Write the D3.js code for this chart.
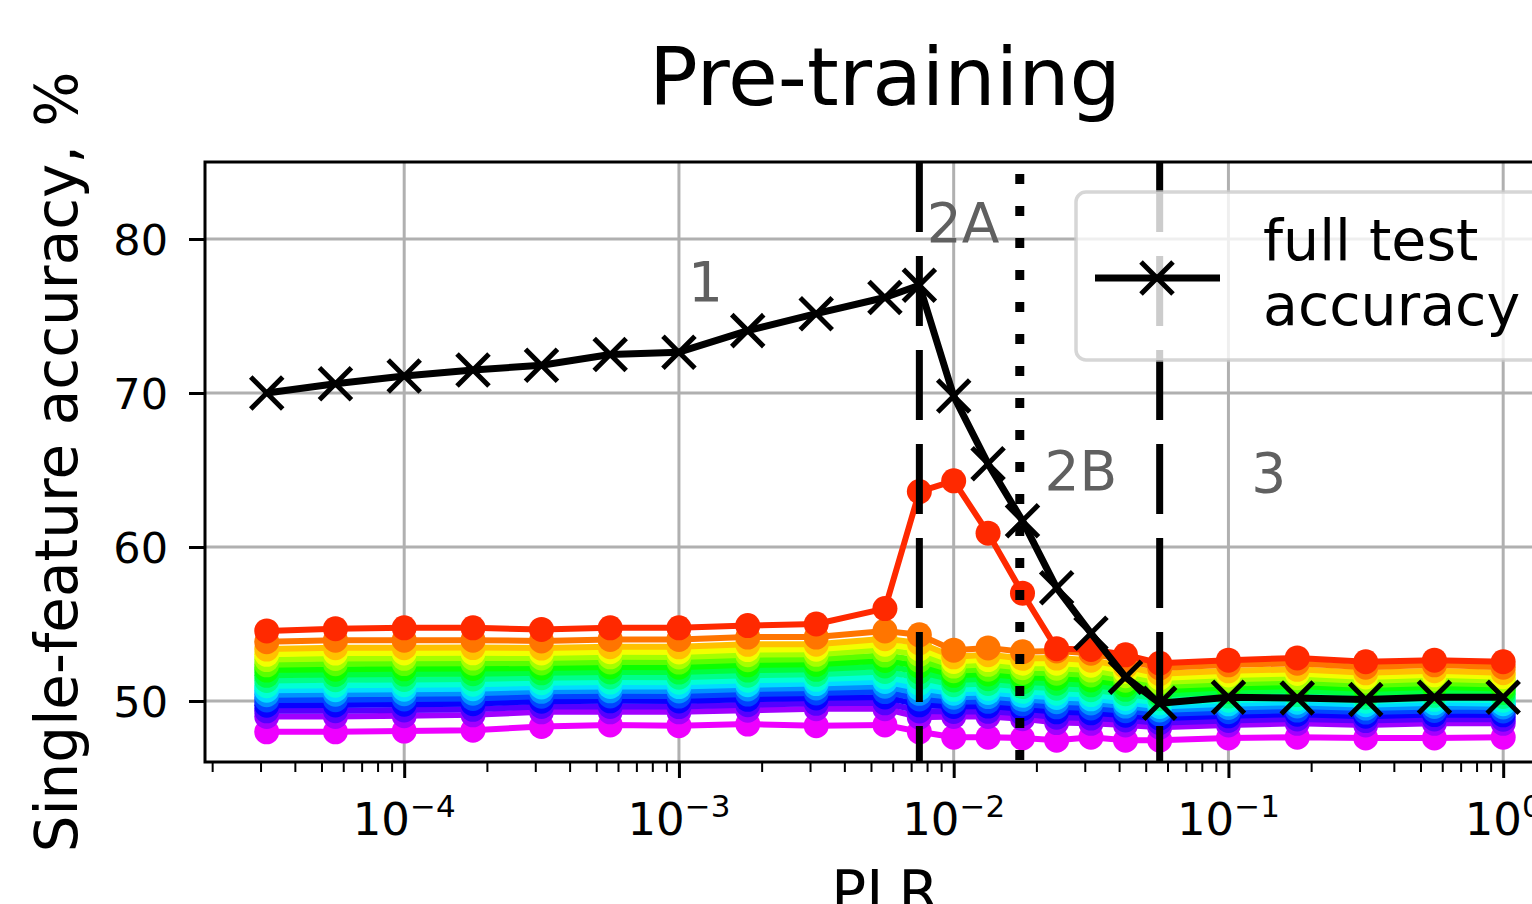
<!DOCTYPE html>
<html>
<head>
<meta charset="utf-8">
<script src="https://cdn.jsdelivr.net/npm/d3@7"></script>
<style>
  html, body { margin: 0; padding: 0; background: #fff; overflow: hidden; }
  svg { display: block; font-family: "DejaVu Sans", sans-serif; }
</style>
</head>
<body>
<div id="chart"></div>
<script>
// PLR values (log x axis)
var plr = [3.16e-5, 5.62e-5, 1e-4, 1.78e-4, 3.16e-4, 5.62e-4, 1e-3, 1.78e-3, 3.16e-3, 5.62e-3,
           7.5e-3, 1e-2, 1.334e-2, 1.78e-2, 2.37e-2, 3.16e-2, 4.22e-2, 5.62e-2,
           0.1, 0.178, 0.316, 0.562, 1.0];

// full test accuracy (black line)
var fullTestAcc = [70.0, 70.6, 71.1, 71.5, 71.8, 72.5, 72.65, 74.05, 75.15, 76.2,
                   77.0, 69.8, 65.4, 61.7, 57.35, 54.4, 51.55, 49.85,
                   50.25, 50.2, 50.1, 50.25, 50.25];

// single-feature accuracies, top (red) to bottom (magenta)
var feat00 = [54.55, 54.7, 54.75, 54.75, 54.65, 54.75, 54.75, 54.9, 55.0, 56.0, 63.6, 64.3, 60.9, 57.0, 53.4, 53.35, 53.0, 52.45, 52.65, 52.8, 52.55, 52.65, 52.55];
var feat01 = [53.85, 53.95, 53.95, 53.95, 53.9, 54.0, 54.0, 54.15, 54.15, 54.55, 54.3, 53.3, 53.45, 53.2, 53.25, 53.1, 52.65, 52.15, 52.35, 52.45, 52.2, 52.35, 52.2];
var feat02 = [53.37, 53.46, 53.46, 53.47, 53.44, 53.53, 53.52, 53.68, 53.69, 54.05, 53.77, 52.87, 53.01, 52.77, 52.79, 52.65, 52.23, 51.77, 51.96, 52.06, 51.83, 51.97, 51.84];
var feat03 = [53.03, 53.11, 53.12, 53.13, 53.12, 53.2, 53.19, 53.34, 53.36, 53.69, 53.39, 52.57, 52.69, 52.46, 52.46, 52.33, 51.94, 51.5, 51.69, 51.79, 51.56, 51.7, 51.58];
var feat04 = [52.69, 52.76, 52.77, 52.79, 52.8, 52.87, 52.86, 53.01, 53.03, 53.34, 53.02, 52.27, 52.38, 52.16, 52.13, 52.01, 51.64, 51.23, 51.41, 51.51, 51.3, 51.44, 51.32];
var feat05 = [52.35, 52.42, 52.43, 52.45, 52.47, 52.54, 52.53, 52.68, 52.71, 52.98, 52.64, 51.97, 52.07, 51.85, 51.81, 51.69, 51.35, 50.96, 51.14, 51.24, 51.04, 51.17, 51.07];
var feat06 = [52.01, 52.07, 52.09, 52.11, 52.15, 52.21, 52.2, 52.35, 52.38, 52.63, 52.27, 51.67, 51.76, 51.55, 51.48, 51.37, 51.05, 50.69, 50.87, 50.97, 50.78, 50.91, 50.81];
var feat07 = [51.67, 51.72, 51.75, 51.77, 51.83, 51.89, 51.88, 52.01, 52.06, 52.28, 51.89, 51.37, 51.45, 51.24, 51.16, 51.05, 50.76, 50.42, 50.6, 50.7, 50.51, 50.64, 50.56];
var feat08 = [51.33, 51.38, 51.4, 51.43, 51.51, 51.56, 51.55, 51.68, 51.73, 51.92, 51.52, 51.06, 51.14, 50.94, 50.83, 50.73, 50.47, 50.15, 50.32, 50.42, 50.25, 50.37, 50.3];
var feat09 = [50.99, 51.03, 51.06, 51.09, 51.19, 51.23, 51.22, 51.35, 51.41, 51.57, 51.14, 50.76, 50.82, 50.63, 50.51, 50.42, 50.17, 49.88, 50.05, 50.15, 49.99, 50.11, 50.05];
var feat10 = [50.7, 50.73, 50.77, 50.8, 50.91, 50.95, 50.94, 51.06, 51.13, 51.27, 50.82, 50.51, 50.56, 50.37, 50.23, 50.14, 49.92, 49.65, 49.82, 49.92, 49.76, 49.88, 49.83];
var feat11 = [50.41, 50.44, 50.47, 50.51, 50.63, 50.66, 50.65, 50.78, 50.85, 50.96, 50.5, 50.25, 50.29, 50.11, 49.95, 49.87, 49.67, 49.42, 49.58, 49.68, 49.54, 49.65, 49.61];
var feat12 = [50.07, 50.09, 50.13, 50.17, 50.31, 50.33, 50.32, 50.45, 50.52, 50.61, 50.13, 49.95, 49.98, 49.81, 49.62, 49.55, 49.37, 49.15, 49.31, 49.41, 49.28, 49.39, 49.35];
var feat13 = [49.73, 49.74, 49.79, 49.83, 49.99, 50.01, 50.0, 50.11, 50.2, 50.26, 49.75, 49.65, 49.67, 49.5, 49.3, 49.23, 49.08, 48.88, 49.04, 49.14, 49.01, 49.12, 49.1];
var feat14 = [49.36, 49.37, 49.42, 49.46, 49.65, 49.65, 49.64, 49.76, 49.85, 49.88, 49.35, 49.32, 49.33, 49.18, 48.95, 48.89, 48.77, 48.59, 48.74, 48.84, 48.73, 48.84, 48.82];
var feat15 = [49.0, 49.0, 49.05, 49.1, 49.3, 49.3, 49.3, 49.4, 49.5, 49.5, 48.95, 49.0, 49.0, 48.85, 48.6, 48.55, 48.45, 48.3, 48.45, 48.55, 48.45, 48.55, 48.55];
var feat16 = [48.0, 48.0, 48.05, 48.1, 48.35, 48.45, 48.4, 48.5, 48.4, 48.45, 48.0, 47.65, 47.65, 47.6, 47.45, 47.65, 47.45, 47.45, 47.6, 47.65, 47.6, 47.6, 47.65];

var featureSeries = [feat00, feat01, feat02, feat03, feat04, feat05, feat06, feat07, feat08,
                     feat09, feat10, feat11, feat12, feat13, feat14, feat15, feat16];

// phase boundaries
var dashedBounds = [7.5e-3, 5.62e-2];
var dottedBounds = [1.74e-2];

// phase labels (data coordinates)
var phaseLabels = ["1", "2A", "2B", "3"];
var phaseLabelX = [1.08e-3, 7.98e-3, 2.14e-2, 0.121];
var phaseLabelY = [76.0, 79.8, 63.7, 63.55];

// ticks
var xMajor = [1e-4, 1e-3, 1e-2, 1e-1, 1];
var xMajorExp = ["\u22124", "\u22123", "\u22122", "\u22121", "0"];
var yTicks = [50, 60, 70, 80];

var W = 1532, H = 904;
var box = {left: 205, top: 162, right: 1565, bottom: 762};

var svg = d3.select("#chart").append("svg")
    .attr("width", W)
    .attr("height", H);

var x = d3.scaleLog()
    .domain([Math.pow(10, -4.725), Math.pow(10, 0.225)])
    .range([box.left, box.right]);
var y = d3.scaleLinear()
    .domain([46.04, 85])
    .range([box.bottom, box.top]);

// gist_rainbow colormap (matplotlib)
function gistRainbow(t) {
  var stops = [[0, [1, 0, 0.16]], [0.03, [1, 0, 0]], [0.215, [1, 1, 0]], [0.4, [0, 1, 0]],
               [0.586, [0, 1, 1]], [0.77, [0, 0, 1]], [0.954, [1, 0, 1]], [1, [1, 0, 0.75]]];
  for (var i = 1; i < stops.length; i++) {
    if (t <= stops[i][0]) {
      var a = stops[i - 1], b = stops[i];
      var f = (t - a[0]) / (b[0] - a[0]);
      var c = a[1].map(function(v, k) { return Math.round(255 * (v + f * (b[1][k] - v))); });
      return "rgb(" + c.join(",") + ")";
    }
  }
  return "rgb(255,0,191)";
}
var colorOf = function(i) { return gistRainbow(0.06 + i * 0.0551); };

// grid
var grid = svg.append("g");
grid.selectAll(".gx").data(xMajor).enter().append("line")
    .attr("x1", function(d) { return x(d); }).attr("x2", function(d) { return x(d); })
    .attr("y1", box.top).attr("y2", box.bottom)
    .attr("stroke", "#b0b0b0").attr("stroke-width", 3);
grid.selectAll(".gy").data(yTicks).enter().append("line")
    .attr("x1", box.left).attr("x2", box.right)
    .attr("y1", function(d) { return y(d); }).attr("y2", function(d) { return y(d); })
    .attr("stroke", "#b0b0b0").attr("stroke-width", 3);

// single-feature lines, bottom series first so red ends on top
var line = d3.line()
    .x(function(d, i) { return x(plr[i]); })
    .y(function(d) { return y(d); });

var order = d3.range(featureSeries.length).reverse();
var series = svg.append("g").selectAll("g").data(order).enter().append("g");
series.append("path")
    .attr("d", function(i) { return line(featureSeries[i]); })
    .attr("fill", "none")
    .attr("stroke", function(i) { return colorOf(i); })
    .attr("stroke-width", 6)
    .attr("stroke-linejoin", "round");
series.selectAll("circle")
    .data(function(i) { return featureSeries[i].map(function(v, j) { return {v: v, j: j, s: i}; }); })
    .enter().append("circle")
    .attr("cx", function(d) { return x(plr[d.j]); })
    .attr("cy", function(d) { return y(d.v); })
    .attr("r", 12.5)
    .attr("fill", function(d) { return colorOf(d.s); });

// phase boundaries
svg.append("g").selectAll("line").data(dashedBounds).enter().append("line")
    .attr("x1", function(d) { return x(d); }).attr("x2", function(d) { return x(d); })
    .attr("y1", box.top).attr("y2", box.bottom)
    .attr("stroke", "#000").attr("stroke-width", 7)
    .attr("stroke-dasharray", "70,24");
svg.append("g").selectAll("line").data(dottedBounds).enter().append("line")
    .attr("x1", function(d) { return x(d); }).attr("x2", function(d) { return x(d); })
    .attr("y1", box.top).attr("y2", box.bottom)
    .attr("stroke", "#000").attr("stroke-width", 9)
    .attr("stroke-dasharray", "10,22").attr("stroke-dashoffset", 20);

// full test accuracy
var xMark = d3.symbol().type(d3.symbolX).size(670);
svg.append("path")
    .attr("d", line(fullTestAcc))
    .attr("fill", "none").attr("stroke", "#000").attr("stroke-width", 7)
    .attr("stroke-linejoin", "round");
svg.append("g").selectAll("path").data(fullTestAcc).enter().append("path")
    .attr("d", xMark)
    .attr("transform", function(d, i) { return "translate(" + x(plr[i]) + "," + y(d) + ")"; })
    .attr("fill", "none").attr("stroke", "#000").attr("stroke-width", 5);

// phase labels
svg.append("g").selectAll("text").data(phaseLabels).enter().append("text")
    .attr("x", function(d, i) { return x(phaseLabelX[i]); })
    .attr("y", function(d, i) { return y(phaseLabelY[i]); })
    .attr("font-size", 55)
    .attr("fill", "#606060")
    .text(function(d) { return d; });

// axes
var yAxis = svg.append("g")
    .attr("transform", "translate(" + box.left + ",0)")
    .call(d3.axisLeft(y).tickValues(yTicks).tickSize(16).tickPadding(21));
yAxis.select(".domain").remove();
yAxis.selectAll("line").attr("stroke-width", 3);
yAxis.selectAll("text").attr("font-size", 43).attr("font-family", "DejaVu Sans").attr("dy", "0.36em");

var minorTicks = x.ticks().filter(function(d) {
  return Math.abs(Math.log10(d) - Math.round(Math.log10(d))) > 1e-6;
});
var xMinor = svg.append("g")
    .attr("transform", "translate(0," + box.bottom + ")")
    .call(d3.axisBottom(x).tickValues(minorTicks).tickSize(10).tickFormat(""));
xMinor.select(".domain").remove();
xMinor.selectAll("line").attr("stroke-width", 2);

var xAxis = svg.append("g")
    .attr("transform", "translate(0," + box.bottom + ")")
    .call(d3.axisBottom(x).tickValues(xMajor).tickSize(16).tickFormat(""));
xAxis.select(".domain").remove();
xAxis.selectAll("line").attr("stroke-width", 3);

var xLabels = svg.append("g").selectAll("text").data(xMajor).enter().append("text")
    .attr("x", function(d) { return x(d); })
    .attr("y", 835)
    .attr("text-anchor", "middle")
    .attr("font-size", 45);
xLabels.append("tspan").text("10");
xLabels.append("tspan").attr("dy", -18).attr("font-size", 31)
    .text(function(d, i) { return xMajorExp[i]; });

// spines
svg.append("rect")
    .attr("x", box.left).attr("y", box.top)
    .attr("width", box.right - box.left).attr("height", box.bottom - box.top)
    .attr("fill", "none").attr("stroke", "#000").attr("stroke-width", 3);

// legend
var legend = svg.append("g");
legend.append("rect")
    .attr("x", 1076).attr("y", 192).attr("width", 520).attr("height", 168)
    .attr("rx", 10).attr("ry", 10)
    .attr("fill", "#fff").attr("fill-opacity", 0.8)
    .attr("stroke", "#cccccc").attr("stroke-opacity", 0.8).attr("stroke-width", 3.5);
legend.append("line")
    .attr("x1", 1095).attr("x2", 1220).attr("y1", 278).attr("y2", 278)
    .attr("stroke", "#000").attr("stroke-width", 7);
legend.append("path")
    .attr("d", xMark)
    .attr("transform", "translate(1157,278)")
    .attr("fill", "none").attr("stroke", "#000").attr("stroke-width", 5);
legend.append("text").attr("x", 1263).attr("y", 260).attr("font-size", 57).text("full test");
legend.append("text").attr("x", 1263).attr("y", 325).attr("font-size", 57).text("accuracy");

// titles
svg.append("text")
    .attr("x", (box.left + box.right) / 2).attr("y", 105)
    .attr("text-anchor", "middle").attr("font-size", 81)
    .text("Pre-training");
svg.append("text")
    .attr("transform", "translate(77," + ((box.top + box.bottom) / 2) + ") rotate(-90)")
    .attr("text-anchor", "middle").attr("font-size", 58)
    .text("Single-feature accuracy, %");
svg.append("text")
    .attr("x", (box.left + box.right) / 2).attr("y", 912)
    .attr("text-anchor", "middle").attr("font-size", 58)
    .text("PLR");
</script>
</body>
</html>
